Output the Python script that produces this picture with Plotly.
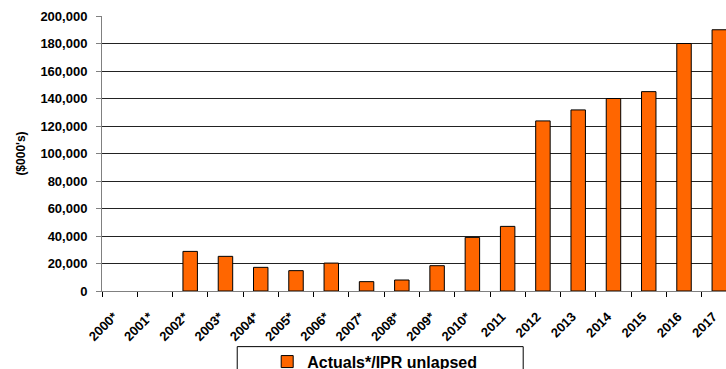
import plotly.graph_objects as go

years = ["2000*", "2001*", "2002*", "2003*", "2004*", "2005*", "2006*", "2007*", "2008*",
         "2009*", "2010*", "2011", "2012", "2013", "2014", "2015", "2016", "2017"]
values = [None, None, 28800, 25200, 17200, 14800, 20300, 6800, 8000,
          18400, 39000, 47000, 123700, 131700, 140000, 145000, 180000, 190000]
series_name = "Actuals*/IPR unlapsed"

FONT = "Liberation Sans, Arial, sans-serif"

fig = go.Figure()
fig.add_trace(go.Bar(
    x=years, y=values, name=series_name,
    width=0.41,
    marker=dict(color="#FF6600", line=dict(color="#000000", width=1)),
    showlegend=True,
))

fig.update_layout(
    width=726, height=369,
    margin=dict(l=102, r=0, t=16, b=78, pad=0, autoexpand=False),
    paper_bgcolor="white", plot_bgcolor="white",
    font=dict(family=FONT, color="black"),
    showlegend=True,
    legend=dict(
        orientation="h", x=0.437, xanchor="center", y=-0.257, yanchor="middle",
        font=dict(family=FONT, size=16, weight="bold", color="black"),
        bgcolor="rgba(0,0,0,0)", borderwidth=0, itemwidth=30,
    ),
    shapes=[dict(type="rect", xref="paper", yref="paper",
                 x0=0.2167, x1=0.675, y0=-0.2023, y1=-0.34,
                 line=dict(color="black", width=1), fillcolor="rgba(0,0,0,0)")],
)

fig.update_xaxes(
    type="category", range=[-0.5, 17.19], automargin=False,
    tickangle=-45, tickfont=dict(family=FONT, size=13, weight="bold", color="black"),
    ticklabelshift=-6, ticklabelstandoff=12,
    showline=True, linecolor="#808080", linewidth=1,
    ticks="outside", tickson="boundaries", ticklen=5, tickcolor="#000000",
    showgrid=False, zeroline=False,
)
fig.update_yaxes(
    range=[0, 200000], dtick=20000, tickformat=",d", automargin=False,
    tickfont=dict(family=FONT, size=13, weight="bold", color="black"),
    showline=True, linecolor="#808080", linewidth=1,
    ticks="outside", ticklen=5, tickcolor="#808080",
    ticklabelstandoff=6,
    showgrid=True, gridcolor="#222222", gridwidth=1, zeroline=False,
    title=dict(text="($000's)", font=dict(family=FONT, size=12, weight="bold", color="black"),
               standoff=12),
)

fig.write_html("out.html", config={"displayModeBar": False},
               post_script="document.body.style.margin='0';document.body.style.overflow='hidden';")
